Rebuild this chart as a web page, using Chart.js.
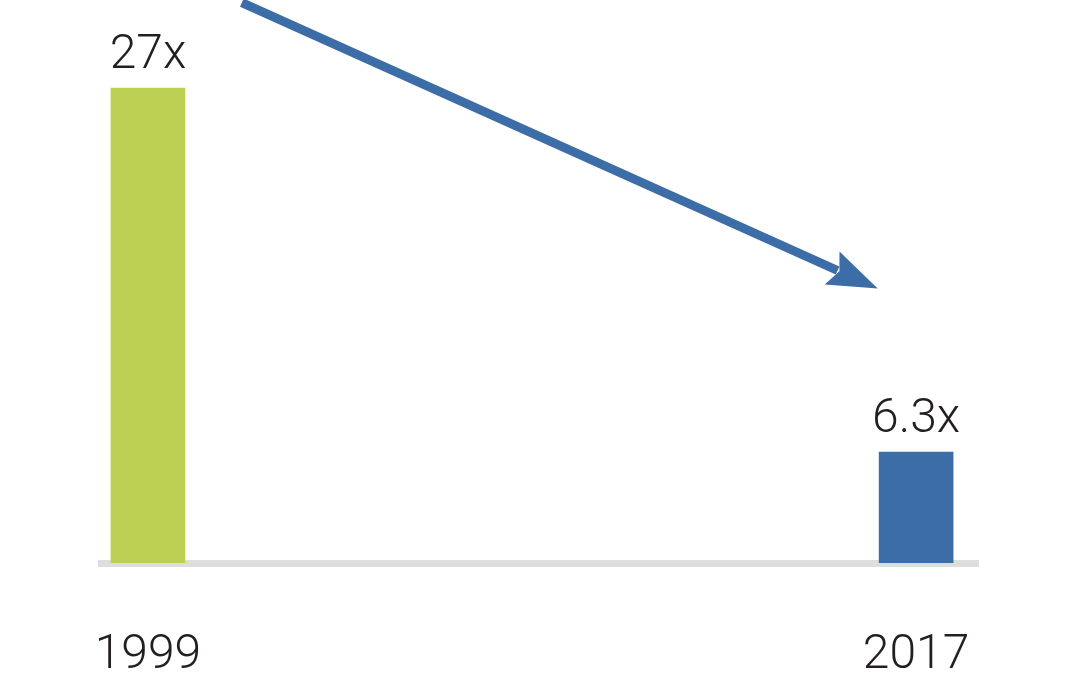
<!DOCTYPE html>
<html>
<head>
<meta charset="utf-8">
<script src="https://cdn.jsdelivr.net/npm/chart.js@4"></script>
<style>
  html, body { margin: 0; padding: 0; background: #fff; }
  #wrap { width: 1080px; height: 677px; position: relative; }
</style>
</head>
<body>
<div id="wrap"><canvas id="myChart"></canvas></div>
<script>
// data
const years = [1999, 2017];
const multiples = [27, 6.3];
const valueLabels = ['27x', '6.3x'];
// trend arrow, in data units [year, multiple]
const arrowFrom = [2001.2, 31.85];
const arrowTo = [2016.1, 15.6];

const FONT = "Roboto, 'Liberation Sans', sans-serif";
const TEXT = '#231f20';
const BLUE = '#3d6da6';

// value labels above each bar
const valueLabelPlugin = {
    id: 'valueLabels',
    afterDatasetsDraw(chart) {
        const ctx = chart.ctx;
        const meta = chart.getDatasetMeta(0);
        ctx.save();
        ctx.font = `300 48px ${FONT}`;
        ctx.fillStyle = TEXT;
        ctx.textAlign = 'center';
        ctx.textBaseline = 'alphabetic';
        meta.data.forEach((bar, i) => {
            ctx.fillText(valueLabels[i], bar.x, bar.y - 20);
        });
        ctx.restore();
    }
};

// arrow showing the drop
const arrowPlugin = {
    id: 'trendArrow',
    afterDatasetsDraw(chart) {
        const { ctx, scales: { x, y } } = chart;
        const x1 = x.getPixelForValue(arrowFrom[0]);
        const y1 = y.getPixelForValue(arrowFrom[1]);
        const x2 = x.getPixelForValue(arrowTo[0]);
        const y2 = y.getPixelForValue(arrowTo[1]);
        const ang = Math.atan2(y2 - y1, x2 - x1);
        const headLen = 50, headHalf = 18;
        const bx = x2 - headLen * Math.cos(ang);
        const by = y2 - headLen * Math.sin(ang);
        ctx.save();
        ctx.strokeStyle = BLUE;
        ctx.fillStyle = BLUE;
        ctx.lineWidth = 9;
        ctx.beginPath();
        ctx.moveTo(x1, y1);
        ctx.lineTo(bx + 6 * Math.cos(ang), by + 6 * Math.sin(ang));
        ctx.stroke();
        ctx.beginPath();
        ctx.moveTo(x2, y2);
        ctx.lineTo(bx - headHalf * Math.sin(ang), by + headHalf * Math.cos(ang));
        ctx.lineTo(bx + 8 * Math.cos(ang), by + 8 * Math.sin(ang));
        ctx.lineTo(bx + headHalf * Math.sin(ang), by - headHalf * Math.cos(ang));
        ctx.closePath();
        ctx.fill();
        ctx.restore();
    }
};

const ctx = document.getElementById('myChart').getContext('2d');
new Chart(ctx, {
    type: 'bar',
    data: {
        datasets: [{
            data: years.map((yr, i) => ({ x: yr, y: multiples[i] })),
            backgroundColor: ['#bed053', BLUE],
            borderWidth: 0,
            barThickness: 74
        }]
    },
    options: {
        responsive: true,
        maintainAspectRatio: false,
        animation: false,
        layout: { padding: { left: 101, right: 102, top: 0, bottom: 0 } },
        plugins: {
            legend: { display: false },
            tooltip: { enabled: false }
        },
        scales: {
            x: {
                type: 'linear',
                offset: false,
                min: 1997.9,
                max: 2018.45,
                afterBuildTicks: (scale) => {
                    scale.ticks = years.map(v => ({ value: v }));
                },
                afterFit: (scale) => {
                    scale.height = 114;
                },
                grid: { display: false, drawTicks: false },
                border: { display: true, color: '#dddddd', width: 7 },
                ticks: {
                    padding: 64,
                    color: TEXT,
                    font: { family: FONT, size: 48, weight: '300' },
                    callback: (v) => String(v),
                    maxRotation: 0,
                    autoSkip: false
                }
            },
            y: {
                display: false,
                min: 0,
                max: 32
            }
        }
    },
    plugins: [valueLabelPlugin, arrowPlugin]
});
</script>
</body>
</html>
